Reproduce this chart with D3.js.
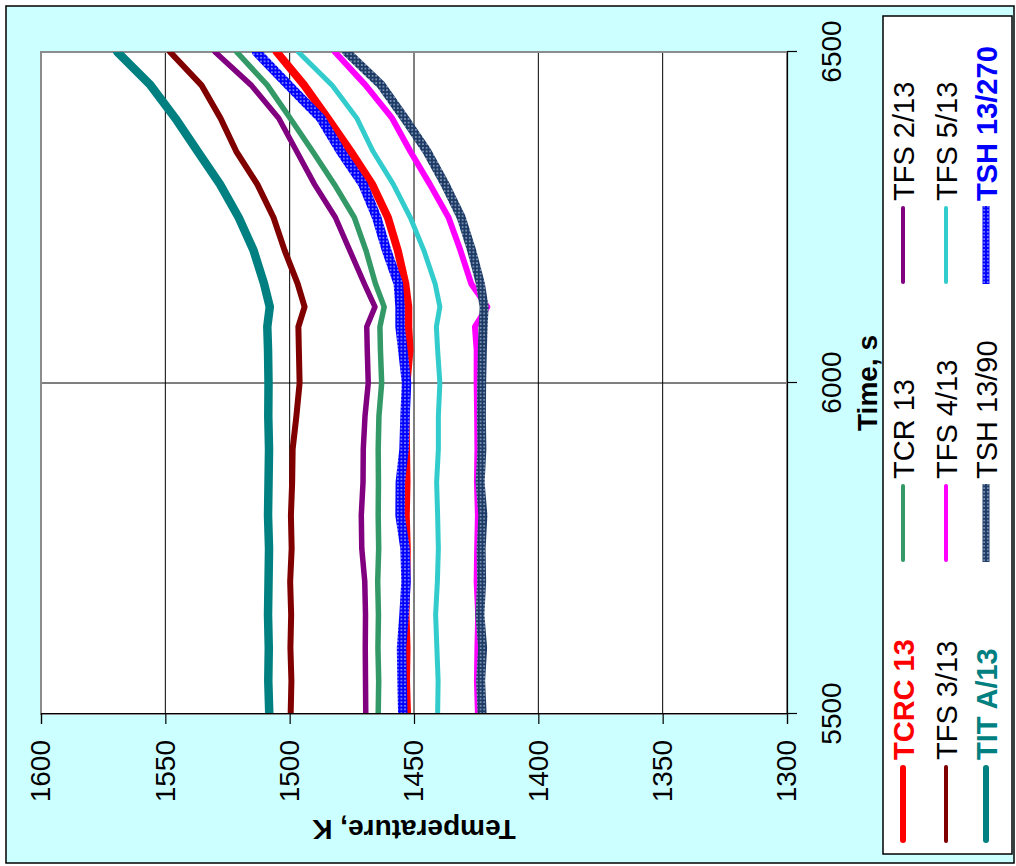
<!DOCTYPE html>
<html>
<head>
<meta charset="utf-8">
<script src="https://cdn.jsdelivr.net/npm/d3@7"></script>
<style>
body { margin: 0; background: #fff; }
svg { display: block; font-family: "Liberation Sans", Arial, sans-serif; }
</style>
</head>
<body>
<div id="chart"></div>
<script>
// time, s
var times = [5500, 5550, 5600, 5650, 5700, 5750, 5800, 5850, 5900, 5950, 6000, 6050, 6085, 6115, 6150, 6200, 6250, 6300, 6350, 6400, 6450, 6500];

// temperature, K
var tcrc13   = [1452.8, 1453.2, 1453.0, 1453.4, 1453.1, 1452.9, 1453.3, 1453.0, 1453.2, 1453.4, 1453.0, 1451.8, 1452.3, 1452.3, 1453.5, 1456.5, 1460.5, 1466.8, 1475.5, 1484.7, 1494.2, 1505.2];
var tcr13    = [1464.4, 1464.2, 1464.5, 1464.3, 1464.6, 1464.2, 1464.4, 1464.3, 1464.4, 1464.1, 1463.0, 1463.5, 1463.7, 1462.0, 1465.5, 1469.3, 1474.0, 1482.0, 1490.8, 1499.8, 1509.0, 1521.3];
var tfs213   = [1469.4, 1469.5, 1469.6, 1469.5, 1469.8, 1471.0, 1471.2, 1470.5, 1470.4, 1469.7, 1468.4, 1468.8, 1469.0, 1465.7, 1470.0, 1475.8, 1481.6, 1490.0, 1497.2, 1504.4, 1515.5, 1530.0];
var tfs313   = [1499.6, 1499.3, 1499.7, 1499.4, 1499.8, 1499.2, 1499.5, 1499.0, 1498.8, 1497.3, 1496.0, 1496.3, 1496.5, 1494.0, 1496.8, 1502.0, 1506.5, 1513.0, 1521.5, 1527.8, 1535.5, 1548.1];
var tfs413   = [1424.3, 1424.7, 1424.5, 1424.2, 1424.8, 1424.6, 1424.3, 1424.7, 1424.5, 1424.6, 1424.8, 1424.8, 1425.5, 1420.5, 1427.0, 1431.3, 1436.1, 1443.6, 1451.5, 1458.8, 1469.5, 1481.8];
var tfs513   = [1440.5, 1440.3, 1440.8, 1441.3, 1440.6, 1440.2, 1440.5, 1440.9, 1440.2, 1440.2, 1439.6, 1440.5, 1441.0, 1439.6, 1441.5, 1446.0, 1451.5, 1458.3, 1466.5, 1473.0, 1483.0, 1496.5];
var titA13   = [1508.2, 1508.6, 1508.4, 1508.7, 1508.5, 1508.3, 1508.7, 1508.5, 1508.3, 1508.6, 1508.5, 1508.7, 1509.0, 1508.0, 1510.3, 1514.5, 1520.5, 1528.0, 1537.0, 1546.0, 1556.0, 1569.3];
var tsh1390  = [1422.6, 1423.2, 1422.4, 1423.5, 1422.8, 1423.0, 1422.3, 1423.4, 1422.7, 1422.9, 1422.8, 1422.5, 1422.2, 1421.8, 1423.3, 1426.8, 1431.0, 1437.5, 1444.8, 1453.8, 1463.2, 1477.1];
var tsh13270 = [1454.5, 1454.8, 1455.0, 1454.0, 1453.2, 1453.6, 1455.6, 1455.5, 1454.0, 1453.6, 1453.0, 1454.5, 1455.6, 1455.6, 1456.3, 1461.0, 1465.0, 1470.5, 1479.5, 1487.5, 1500.5, 1513.3];

var tempTicks = [1300, 1350, 1400, 1450, 1500, 1550, 1600];
var timeTicks = [5500, 6000, 6500];

var seriesNames = ["TCRC 13", "TCR 13", "TFS 2/13", "TFS 3/13", "TFS 4/13", "TFS 5/13", "TIT A/13", "TSH 13/90", "TSH 13/270"];
var seriesValues = [tcrc13, tcr13, tfs213, tfs313, tfs413, tfs513, titA13, tsh1390, tsh13270];

// look of each series, same order as the names
var looks = [
  {color: "#ff0000", width: 8, key: 6, bold: true},
  {color: "#339966", width: 5.5, key: 4},
  {color: "#800080", width: 5.5, key: 4},
  {color: "#800000", width: 6, key: 4},
  {color: "#ff00ff", width: 6, key: 4},
  {color: "#33cccc", width: 5, key: 4},
  {color: "#008080", width: 8.5, key: 6, bold: true},
  {color: "url(#dotsNavy)", width: 9, key: 7, square: true},
  {color: "url(#dotsBlue)", width: 9.5, key: 7, square: true, bold: true, text: "#0000ff"}
];

var series = seriesNames.map(function(name, i) {
  return {
    name: name,
    look: looks[i],
    values: times.map(function(t, j) { return {time: t, temp: seriesValues[i][j]}; })
  };
});

var svgWidth = 1016;
var svgHeight = 866;

var svg = d3.select("#chart").append("svg")
  .attr("width", svgWidth)
  .attr("height", svgHeight);

var defs = svg.append("defs");

function dots(id, base, dot) {
  var p = defs.append("pattern")
    .attr("id", id)
    .attr("width", 3.6)
    .attr("height", 3.6)
    .attr("patternUnits", "userSpaceOnUse");
  p.append("rect").attr("width", 3.6).attr("height", 3.6).attr("fill", base);
  p.append("rect").attr("x", 1.1).attr("y", 1.1).attr("width", 1.4).attr("height", 1.4).attr("fill", dot);
}
dots("dotsBlue", "#0000ff", "#c8c8ff");
dots("dotsNavy", "#1d3b66", "#b8c8dc");

// the chart is laid out upright (866 wide, 1016 tall) and then turned a quarter turn left
var g = svg.append("g")
  .attr("transform", `translate(0, ${svgHeight}) rotate(-90)`);

// chart area background
g.append("rect")
  .attr("x", 3)
  .attr("y", 6)
  .attr("width", 857)
  .attr("height", 1008)
  .attr("fill", "#ccffff")
  .attr("stroke", "#000")
  .attr("stroke-width", 1.5);

var plot = {left: 152, right: 814, top: 41, bottom: 787};

var xScale = d3.scaleLinear()
  .domain([5500, 6500])
  .range([plot.left, plot.right]);

var yScale = d3.scaleLinear()
  .domain([1300, 1600])
  .range([plot.bottom, plot.top]);

g.append("rect")
  .attr("x", plot.left)
  .attr("y", plot.top)
  .attr("width", plot.right - plot.left)
  .attr("height", plot.bottom - plot.top)
  .attr("fill", "#fff");

g.append("clipPath")
  .attr("id", "plotClip")
  .append("rect")
  .attr("x", plot.left)
  .attr("y", plot.top)
  .attr("width", plot.right - plot.left)
  .attr("height", plot.bottom - plot.top);

// gridlines
g.selectAll(".hgrid").data(tempTicks.slice(1, -1))
  .enter().append("line")
  .attr("x1", plot.left)
  .attr("x2", plot.right)
  .attr("y1", d => yScale(d))
  .attr("y2", d => yScale(d))
  .attr("stroke", "#000")
  .attr("stroke-width", 1);

g.selectAll(".vgrid").data(timeTicks.slice(1, -1))
  .enter().append("line")
  .attr("x1", d => xScale(d))
  .attr("x2", d => xScale(d))
  .attr("y1", plot.top)
  .attr("y2", plot.bottom)
  .attr("stroke", "#000")
  .attr("stroke-width", 1);

// plot frame
g.append("rect")
  .attr("x", plot.left)
  .attr("y", plot.top)
  .attr("width", plot.right - plot.left)
  .attr("height", plot.bottom - plot.top)
  .attr("fill", "none")
  .attr("stroke", "#8c8c8c")
  .attr("stroke-width", 2);

// lines
var line = d3.line()
  .x(d => xScale(d.time))
  .y(d => yScale(d.temp));

g.append("g")
  .attr("clip-path", "url(#plotClip)")
  .selectAll("path").data(series)
  .enter().append("path")
  .attr("d", d => line(d.values))
  .attr("fill", "none")
  .attr("stroke", d => d.look.color)
  .attr("stroke-width", d => d.look.width)
  .attr("stroke-linejoin", "round")
  .attr("stroke-linecap", "round");

// axes
var yAxis = d3.axisLeft(yScale).tickValues(tempTicks).tickSize(10).tickPadding(16)
  .tickFormat(d3.format("d"));
var xAxis = d3.axisBottom(xScale).tickValues(timeTicks).tickSize(10).tickPadding(24)
  .tickFormat(d3.format("d"));

var yg = g.append("g")
  .attr("transform", `translate(${plot.left}, 0)`)
  .call(yAxis);

var xg = g.append("g")
  .attr("transform", `translate(0, ${plot.bottom})`)
  .call(xAxis);

[yg, xg].forEach(function(a) {
  a.select(".domain").attr("stroke", "#000").attr("stroke-width", 1.2);
  a.selectAll(".tick line").attr("stroke", "#000").attr("stroke-width", 1.2);
  a.selectAll(".tick text")
    .attr("font-size", "28px")
    .attr("font-family", "Liberation Sans, Arial, sans-serif")
    .attr("fill", "#000");
});

// axis titles
g.append("text")
  .attr("x", (plot.left + plot.right) / 2)
  .attr("y", 877)
  .attr("text-anchor", "middle")
  .attr("font-size", "28px")
  .style("font-weight", "bold")
  .text("Time, s");

g.append("text")
  .attr("transform", `translate(46, ${(plot.top + plot.bottom) / 2}) rotate(-90)`)
  .attr("text-anchor", "middle")
  .attr("font-size", "28px")
  .style("font-weight", "bold")
  .text("Temperature, K");

// legend
g.append("rect")
  .attr("x", 12)
  .attr("y", 883)
  .attr("width", 838)
  .attr("height", 129)
  .attr("fill", "#fff")
  .attr("stroke", "#000")
  .attr("stroke-width", 1.5);

var legendCols = [23, 304, 582];
var legendRows = [903, 946, 986];

var items = g.selectAll(".legend").data(series)
  .enter().append("g")
  .attr("transform", (d, i) => `translate(${legendCols[i % 3]}, ${legendRows[Math.floor(i / 3)]})`);

items.append("line")
  .attr("x1", d => d.look.square ? 0 : d.look.key / 2)
  .attr("x2", d => d.look.square ? 78 : 78 - d.look.key / 2)
  .attr("y1", 0)
  .attr("y2", 0)
  .attr("stroke", d => d.look.color)
  .attr("stroke-width", d => d.look.key)
  .attr("stroke-linecap", d => d.look.square ? "butt" : "round");

items.append("text")
  .attr("x", 83)
  .attr("y", 10.5)
  .attr("font-size", "29px")
  .attr("fill", d => d.look.bold ? (d.look.text || d.look.color) : "#000")
  .style("font-weight", d => d.look.bold ? "bold" : "normal")
  .text(d => d.name);
</script>
</body>
</html>
